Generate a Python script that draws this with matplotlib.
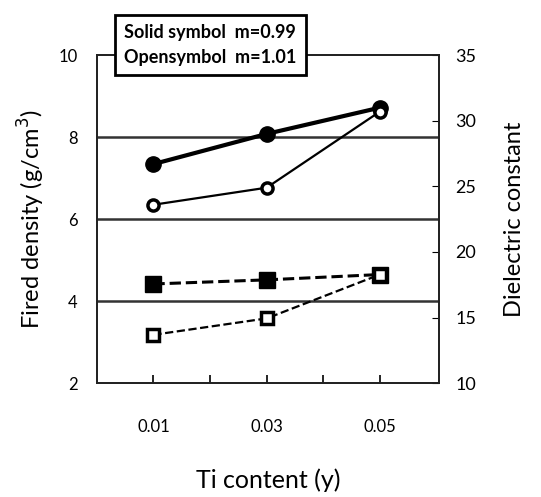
import matplotlib
matplotlib.use("Agg")
import matplotlib.pyplot as plt

ti = [0.01, 0.03, 0.05]
# Dielectric constant (right axis) - circles
eps_solid = [26.7, 29.0, 31.0]
eps_open = [23.6, 24.9, 30.7]
# Fired density (left axis) - squares
dens_solid = [4.42, 4.52, 4.65]
dens_open = [3.18, 3.58, 4.65]

xticks = [0.01, 0.03, 0.05]
xticklabels = ["0.01", "0.03", "0.05"]
lyticks = [2, 4, 6, 8, 10]
ryticks = [10, 15, 20, 25, 30, 35]

plt.rcParams['font.family'] = ['Lato', 'DejaVu Sans']

fig = plt.figure(figsize=(5.41, 4.97), dpi=100)
ax = fig.add_axes([0.179, 0.229, 0.632, 0.660])
ax2 = ax.twinx()

ax.set_xlim(0, 0.0604)
ax.set_ylim(2, 10)
ax2.set_ylim(10, 35)

for yv in [4, 6, 8]:
    ax.axhline(yv, color='#333333', lw=1.8, zorder=1)

ax.plot(ti, dens_solid, ls='--', color='black', lw=2.2, marker='s',
        ms=11, mfc='black', mec='black', zorder=3)
ax.plot(ti, dens_open, ls='--', color='black', lw=1.6, marker='s',
        ms=9, mfc='white', mec='black', mew=2.5, zorder=3)
ax2.plot(ti, eps_solid, ls='-', color='black', lw=3, marker='o',
         ms=11, mfc='black', mec='black', zorder=3)
ax2.plot(ti, eps_open, ls='-', color='black', lw=1.6, marker='o',
         ms=8, mfc='white', mec='black', mew=2.5, zorder=3)

ax.set_xticks(xticks)
ax.set_xticklabels(xticklabels, fontsize=12)
ax.set_xticks([0.02, 0.04], minor=True)
ax.tick_params(axis='x', which='both', direction='in', length=6, width=1.2, pad=26)
ax.set_yticks(lyticks)
ax.tick_params(axis='y', direction='in', length=0, labelsize=12, pad=14)
ax2.set_yticks(ryticks)
ax2.tick_params(axis='y', direction='in', length=5, labelsize=13, pad=12)

ax.set_xlabel("Ti content (y)", fontsize=18, labelpad=24)
ax.set_ylabel("Fired density (g/cm$^3$)", fontsize=17, labelpad=8)
ax2.set_ylabel("Dielectric constant", fontsize=17, labelpad=20)

for a in (ax, ax2):
    for s in a.spines.values():
        s.set_linewidth(1.3)
        s.set_color('#222222')

fig.text(0.230, 0.909, "Solid symbol  m=0.99\nOpensymbol  m=1.01",
         fontsize=13, fontweight='bold', va='center', ha='left',
         linespacing=1.55, family=['Liberation Sans Narrow', 'Lato', 'DejaVu Sans'],
         zorder=10,
         bbox=dict(boxstyle='square,pad=0.5', fc='white', ec='black', lw=2))

fig.savefig("out.png", dpi=100)
